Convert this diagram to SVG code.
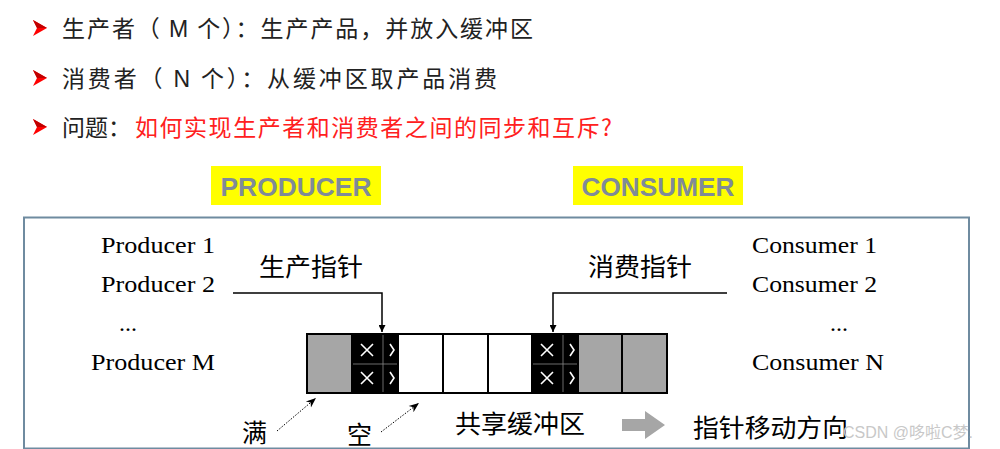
<svg xmlns="http://www.w3.org/2000/svg" width="1000" height="449" viewBox="0 0 1000 449">
<defs>
<style>
.cn{font-family:"Noto Sans CJK SC","Liberation Sans",sans-serif;font-size:23px;fill:#222}
.big{font-size:25px;fill:#000}
.red{fill:#ff2020}
.ser{font-family:"Liberation Serif",serif;font-size:24px;fill:#000}
.tag{font-family:"Liberation Sans",sans-serif;font-weight:bold;font-size:26px;fill:#7f8b98}
.gray{fill:#a6a6a6;stroke:#000;stroke-width:2}
.blk{fill:#000;stroke:#000;stroke-width:2}
.wht{fill:#fff;stroke:#000;stroke-width:2}
.x{stroke:#fff;stroke-width:1.6;fill:none}
.ptr{fill:none;stroke:#000;stroke-width:1.5}
.dot{fill:none;stroke:#000;stroke-width:1;stroke-dasharray:1.5 1.5}
</style>
<marker id="ah" viewBox="0 0 10 10" refX="10" refY="5" markerWidth="7" markerHeight="7" orient="auto" markerUnits="userSpaceOnUse"><path d="M0,0L10,5L0,10z" fill="#000"/></marker>
<marker id="ah2" viewBox="0 0 10 10" refX="10" refY="5" markerWidth="10" markerHeight="10" orient="auto" markerUnits="userSpaceOnUse"><path d="M0,1L10,5L0,9L3,5z" fill="#000"/></marker>
<g id="bul"><path d="M0,-8L14,0L0,8L4,0z" fill="#ff0000"/><path d="M0,-8L14,0L4,0z" fill="#c00000"/></g>
</defs>
<rect width="1000" height="449" fill="#fff"/>
<g id="bullets">
<use href="#bul" x="33" y="28"/>
<use href="#bul" x="33" y="78"/>
<use href="#bul" x="33" y="127"/>
<text class="cn" x="62" y="37" textLength="471" lengthAdjust="spacing">生产者（ <tspan font-family="Liberation Sans">M</tspan> 个）：生产产品，并放入缓冲区</text>
<text class="cn" x="62" y="87" textLength="435" lengthAdjust="spacing">消费者（ <tspan font-family="Liberation Sans">N</tspan> 个）：从缓冲区取产品消费</text>
<text class="cn" x="62" y="136">问题：</text>
<text class="cn red" x="135" y="136" textLength="477" lengthAdjust="spacing">如何实现生产者和消费者之间的同步和互斥?</text>
</g>
<g id="producer-tag"><rect x="211" y="166" width="170" height="39" fill="#ffff00"/><text class="tag" x="296" y="196" text-anchor="middle" textLength="151" lengthAdjust="spacingAndGlyphs">PRODUCER</text></g>
<g id="consumer-tag"><rect x="573" y="166" width="170" height="39" fill="#ffff00"/><text class="tag" x="658" y="196" text-anchor="middle" textLength="153" lengthAdjust="spacingAndGlyphs">CONSUMER</text></g>
<g id="frame"><rect x="24" y="217.5" width="945" height="231" fill="#fff" stroke="#6f8ba0" stroke-width="2"/></g>
<g id="producers">
<text class="ser" x="101" y="253" textLength="114" lengthAdjust="spacingAndGlyphs">Producer 1</text>
<text class="ser" x="101" y="292" textLength="114" lengthAdjust="spacingAndGlyphs">Producer 2</text>
<text class="ser" x="119" y="331">...</text>
<text class="ser" x="91" y="370" textLength="124" lengthAdjust="spacingAndGlyphs">Producer M</text>
</g>
<g id="consumers">
<text class="ser" x="752" y="253" textLength="125" lengthAdjust="spacingAndGlyphs">Consumer 1</text>
<text class="ser" x="752" y="292" textLength="125" lengthAdjust="spacingAndGlyphs">Consumer 2</text>
<text class="ser" x="830" y="331">...</text>
<text class="ser" x="752" y="370" textLength="132" lengthAdjust="spacingAndGlyphs">Consumer N</text>
</g>
<g id="labels">
<text class="cn big" x="259" y="276" textLength="104" lengthAdjust="spacingAndGlyphs">生产指针</text>
<text class="cn big" x="588" y="276" textLength="104" lengthAdjust="spacingAndGlyphs">消费指针</text>
</g>
<g id="buffer">
<rect class="gray" x="307" y="334" width="45" height="59"/>
<rect class="blk" x="352" y="334" width="46" height="59"/>
<rect class="wht" x="398" y="334" width="45" height="59"/>
<rect class="wht" x="443" y="334" width="45" height="59"/>
<rect class="wht" x="488" y="334" width="44" height="59"/>
<rect class="blk" x="532" y="334" width="46" height="59"/>
<rect class="gray" x="578" y="334" width="44" height="59"/>
<rect class="gray" x="622" y="334" width="45" height="59"/>
<path d="M383,335V392M353,364H397M563,335V392M533,364H577" stroke="#888" stroke-width="0.8"/>
<path class="x" d="M361,344l12,12M373,344l-12,12M361,372l12,12M373,372l-12,12M390,344l4,6l-4,6M390,372l4,6l-4,6"/>
<path class="x" d="M541,344l12,12M553,344l-12,12M541,372l12,12M553,372l-12,12M570,344l4,6l-4,6M570,372l4,6l-4,6"/>
</g>
<g id="connectors">
<path class="ptr" d="M233,293H382V332" marker-end="url(#ah)"/>
<path class="ptr" d="M727,293H553V332" marker-end="url(#ah)"/>
<path class="dot" d="M277,431L316,398" marker-end="url(#ah2)"/>
<path class="dot" d="M381,432L419,403" marker-end="url(#ah2)"/>
</g>
<g id="legend">
<text class="cn big" x="242" y="442">满</text>
<text class="cn big" x="347" y="444">空</text>
<text class="cn big" x="455" y="433" textLength="130" lengthAdjust="spacingAndGlyphs">共享缓冲区</text>
<path d="M622,419H645V411L665,425L645,439V431H622z" fill="#a6a6a6"/>
<text class="cn big" x="693" y="437" textLength="155" lengthAdjust="spacingAndGlyphs">指针移动方向</text>
<text x="843" y="438" font-family="Liberation Sans,'Noto Sans CJK SC',sans-serif" font-size="16" fill="#c8c8c8">CSDN @哆啦C梦.</text>
</g>
</svg>
